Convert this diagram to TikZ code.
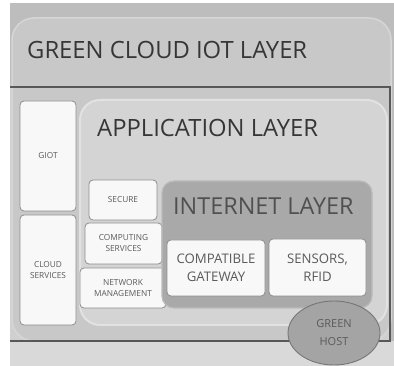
\documentclass[tikz,border=0pt]{standalone}
\usepackage{fontspec}
\setmainfont{Open Sans}
\usetikzlibrary{shapes.geometric}

\definecolor{pagegray}{HTML}{BDBDBD}
\definecolor{footgray}{HTML}{D9D9D9}
\definecolor{framefill}{HTML}{D0D0D0}
\definecolor{cloudfill}{HTML}{C8C8C8}
\definecolor{cloudedge}{HTML}{D6D6D6}
\definecolor{frameline}{HTML}{585858}
\definecolor{appfill}{HTML}{D4D4D4}
\definecolor{appedge}{HTML}{E2E2E2}
\definecolor{netfill}{HTML}{A9A9A9}
\definecolor{netedge}{HTML}{BBBBBB}
\definecolor{cardfill}{HTML}{F8F8F8}
\definecolor{cardedge}{HTML}{8E8E8E}
\definecolor{hostfill}{HTML}{A4A4A4}
\definecolor{hostedge}{HTML}{767676}
\definecolor{titletext}{HTML}{363636}
\definecolor{nettext}{HTML}{505050}
\definecolor{smalltext}{HTML}{5A5A5A}

\begin{document}
\begin{tikzpicture}[x=1pt,y=-1pt,
  card/.style={draw=cardedge, line width=0.8pt, fill=cardfill, rounded corners=4pt,
    inner sep=0pt, outer sep=0pt, align=center, text=smalltext},
  tinylabel/.style={font=\fontsize{8.3}{11}\selectfont},
  midlabel/.style={font=\fontsize{13.2}{18}\selectfont},
  layertitle/.style={anchor=west, inner sep=0pt, text=titletext,
    font=\fontsize{23.8}{26}\selectfont},
]
\useasboundingbox (0,0) rectangle (394,366);
% page background
\fill[white] (0,0) rectangle (394,366);
\fill[pagegray] (10,3) rectangle (394,366);
\fill[footgray] (10,341) rectangle (394,366);
\fill[framefill] (10,87) rectangle (390,341);

% outer cloud layer
\node[draw=cloudedge, line width=1.5pt, fill=cloudfill, rounded corners=22pt,
  minimum width=379pt, minimum height=323pt, inner sep=0pt] (cloud) at (201.5,179.5) {};
\node[layertitle] (cloudtitle) at (27,50) {GREEN CLOUD IOT LAYER};

% frame of the lower part
\draw[frameline, line width=1.8pt] (10,87) -- (390,87) -- (390,341) -- (10,341);

% left column
\node[card, tinylabel, minimum width=56pt, minimum height=110pt] (giot) at (48,156) {GIOT};
\node[card, tinylabel, minimum width=56pt, minimum height=110pt] (cloudsvc) at (48,270) {CLOUD\\SERVICES};

% application layer
\node[draw=appedge, line width=2pt, fill=appfill, rounded corners=20pt,
  minimum width=307pt, minimum height=225pt, inner sep=0pt] (app) at (233.5,212.5) {};
\node[layertitle] (apptitle) at (97,128) {APPLICATION LAYER};

% application services
\node[card, tinylabel, minimum width=68pt, minimum height=40pt] (secure) at (123,200) {SECURE};
\node[card, tinylabel, minimum width=77pt, minimum height=41pt] (compute) at (123.5,243.5) {COMPUTING\\SERVICES};
\node[card, tinylabel, minimum width=86pt, minimum height=40pt] (netmgmt) at (123,288) {NETWORK\\MANAGEMENT};

% internet layer
\node[draw=netedge, line width=1.2pt, fill=netfill, rounded corners=12pt,
  minimum width=210pt, minimum height=127pt, inner sep=0pt] (internet) at (267,244.5) {};
\node[layertitle, text=nettext, font=\fontsize{23.4}{25}\selectfont] (nettitle) at (173,206) {INTERNET LAYER};
\node[card, midlabel, minimum width=98pt, minimum height=56pt] (gateway) at (216,268) {COMPATIBLE\\GATEWAY};
\node[card, midlabel, minimum width=97pt, minimum height=57pt] (sensors) at (317.5,267.5) {SENSORS,\\RFID};

% green host
\node[ellipse, draw=hostedge, line width=0.9pt, fill=hostfill, minimum width=92pt,
  minimum height=64pt, inner sep=0pt, align=center, text=smalltext,
  font=\fontsize{11}{18}\selectfont] (host) at (334,333) {GREEN\\HOST};
\end{tikzpicture}
\end{document}
